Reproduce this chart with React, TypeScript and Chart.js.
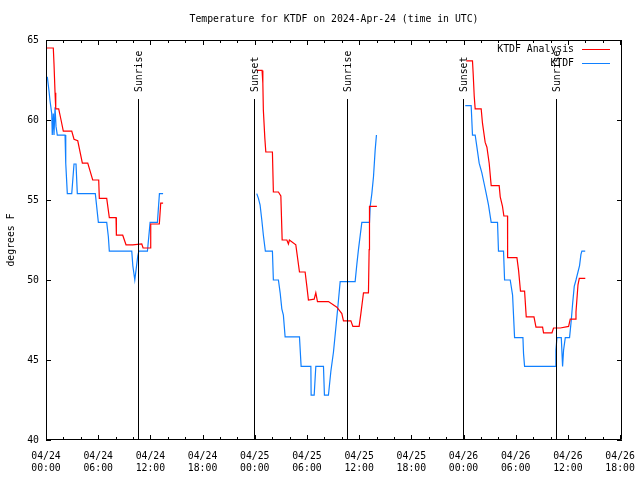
import React, { useEffect, useRef } from "react";
import { Chart, registerables } from "chart.js";

Chart.register(...registerables);

// ---------- data ----------
const TITLE = "Temperature for KTDF on 2024-Apr-24 (time in UTC)";
const Y_LABEL = "degrees F";
const SERIES_NAMES = ["KTDF Analysis", "KTDF"];
const SERIES_COLORS = ["#ff0000", "#1080ff"];
const X_DAYS = ["04/24", "04/25", "04/26"];
const X_TIMES = ["00:00", "06:00", "12:00", "18:00"];
const X_MAX_HOURS = 66.22;
const Y_MIN = 40;
const Y_MAX = 65;
const EVENT_HOURS = [10.62, 23.97, 34.62, 47.97, 58.62];
const EVENT_LABELS = ["Sunrise", "Sunset", "Sunrise", "Sunset", "Sunrise"];

// KTDF Analysis (hours since 04/24 00:00 UTC, degrees F)
const analysisHours1 = [0.08, 0.84, 0.92, 1.04, 1.12, 1.46, 1.73, 1.99, 2.96, 3.22, 3.65, 4.18, 4.8, 5.37, 6.06, 6.13, 6.98, 7.28, 8.05, 8.09, 8.82, 9.2, 9.97, 11.01, 11.16, 11.96, 12.04, 13.03, 13.19, 13.46];
const analysisTemps1 = [64.5, 64.5, 63.5, 61.7, 60.7, 60.7, 60.0, 59.3, 59.3, 58.8, 58.7, 57.3, 57.3, 56.25, 56.25, 55.1, 55.1, 53.9, 53.9, 52.8, 52.8, 52.2, 52.2, 52.25, 52.0, 52.0, 53.5, 53.5, 54.8, 54.8];
const analysisHours2 = [24.23, 24.84, 24.93, 24.99, 25.16, 25.27, 26.03, 26.14, 26.72, 27.0, 27.15, 27.69, 27.87, 27.98, 28.72, 29.14, 29.79, 29.99, 30.17, 30.83, 31.02, 31.21, 32.47, 33.44, 34.01, 34.2, 35.05, 35.28, 36.0, 36.2, 36.5, 37.07, 37.15, 37.19, 38.04];
const analysisTemps2 = [63.1, 63.1, 62.3, 60.6, 58.85, 58.0, 58.0, 55.5, 55.5, 55.25, 52.5, 52.5, 52.25, 52.5, 52.2, 50.5, 50.5, 49.6, 48.75, 48.8, 49.2, 48.65, 48.65, 48.3, 47.9, 47.45, 47.45, 47.1, 47.1, 47.9, 49.2, 49.2, 51.9, 54.6, 54.6];
const analysisHours3 = [48.31, 49.03, 49.11, 49.23, 49.34, 50.03, 50.18, 50.49, 50.69, 50.95, 51.18, 52.1, 52.22, 52.48, 52.64, 53.06, 53.07, 54.14, 54.33, 54.55, 55.02, 55.21, 56.1, 56.33, 57.09, 57.2, 58.17, 58.35, 59.12, 60.08, 60.27, 60.85, 60.93, 61.16, 61.31, 62.0];
const analysisTemps3 = [63.7, 63.7, 62.9, 61.5, 60.7, 60.7, 59.8, 58.6, 58.3, 57.3, 55.9, 55.9, 55.2, 54.6, 54.0, 54.0, 51.4, 51.4, 50.6, 49.3, 49.3, 47.7, 47.7, 47.05, 47.05, 46.7, 46.7, 47.0, 47.0, 47.1, 47.55, 47.55, 48.0, 49.7, 50.1, 50.1];

// KTDF observations
const obsHours1 = [0.15, 0.35, 0.46, 0.66, 0.72, 0.84, 0.92, 1.04, 1.15, 1.3, 2.19, 2.27, 2.45, 2.96, 3.22, 3.45, 3.6, 5.67, 6.02, 6.98, 7.17, 7.28, 9.86, 9.98, 10.21, 10.55, 10.67, 11.66, 11.97, 12.81, 13.04, 13.46];
const obsTemps1 = [62.7, 61.8, 61.2, 60.4, 59.06, 60.4, 59.06, 60.8, 59.6, 59.06, 59.06, 57.3, 55.4, 55.4, 57.25, 57.25, 55.4, 55.4, 53.6, 53.6, 52.7, 51.8, 51.8, 50.9, 50.0, 51.5, 51.8, 51.8, 53.6, 53.6, 55.4, 55.4];
const obsHours2 = [24.23, 24.42, 24.61, 24.81, 24.99, 25.22, 26.03, 26.14, 26.72, 26.92, 27.11, 27.29, 27.49, 29.14, 29.33, 30.45, 30.48, 30.83, 31.02, 31.9, 32.01, 32.47, 32.75, 33.05, 33.32, 33.55, 33.82, 35.54, 35.74, 35.92, 36.31, 37.19, 37.27, 37.46, 37.65, 37.84, 37.99];
const obsTemps2 = [55.4, 55.1, 54.7, 53.75, 52.8, 51.8, 51.8, 50.0, 50.0, 49.2, 48.2, 47.8, 46.45, 46.45, 44.6, 44.6, 42.8, 42.8, 44.6, 44.6, 42.8, 42.8, 44.3, 45.5, 47.0, 48.3, 49.9, 49.9, 51.0, 51.9, 53.6, 53.6, 54.6, 55.4, 56.45, 58.1, 59.06];
const obsHours3 = [48.2, 48.88, 49.03, 49.34, 49.54, 49.8, 50.11, 50.38, 50.61, 50.87, 51.18, 51.91, 52.02, 52.6, 52.72, 53.37, 53.64, 53.87, 54.83, 54.9, 55.02, 58.55, 58.62, 58.74, 59.24, 59.39, 59.5, 59.7, 60.19, 60.39, 60.54, 60.73, 60.93, 61.34, 61.5, 61.61, 61.99];
const obsTemps3 = [60.9, 60.9, 59.06, 59.06, 58.3, 57.3, 56.7, 56.0, 55.4, 54.7, 53.6, 53.6, 51.8, 51.8, 50.0, 50.0, 49.06, 46.4, 46.4, 45.4, 44.6, 44.6, 45.6, 46.4, 46.4, 44.6, 45.6, 46.4, 46.4, 47.5, 48.5, 49.6, 50.0, 50.9, 51.6, 51.8, 51.8];

// ---------- helpers ----------
type Pt = { x: number; y: number | null };
function joinSegments(segs: [number[], number[]][]): Pt[] {
  const out: Pt[] = [];
  segs.forEach(([hs, ts], i) => {
    if (i > 0) {
      const prev = out[out.length - 1].x;
      out.push({ x: (prev + hs[0]) / 2, y: null });
    }
    hs.forEach((h, j) => out.push({ x: h, y: ts[j] }));
  });
  return out;
}

const FONT_FAMILY = "'DejaVu Sans Mono', 'Liberation Mono', monospace";
const FONT_SIZE = 9.8;

const decorPlugin = {
  id: "gnuplotDecor",
  afterDatasetsDraw(chart: any) {
    const { ctx, chartArea, scales } = chart;
    const { left, right, top, bottom } = chartArea;
    const xs = scales.x;
    const ys = scales.y;
    ctx.save();
    ctx.strokeStyle = "#000";
    ctx.lineWidth = 1;
    ctx.beginPath();
    // sunrise / sunset lines
    EVENT_HOURS.forEach((h) => {
      const px = Math.round(xs.getPixelForValue(h)) + 0.5;
      ctx.moveTo(px, 99);
      ctx.lineTo(px, bottom);
    });
    // frame
    ctx.rect(left + 0.5, top + 0.5, right - left - 1, bottom - top - 1);
    // x ticks (major every 6h, minor every 2h), inward on bottom and top
    for (let h = 0; h <= X_MAX_HOURS + 1e-6; h += 2) {
      const px = Math.round(xs.getPixelForValue(h)) + 0.5;
      const len = h % 6 === 0 ? 5 : 3;
      ctx.moveTo(px, bottom);
      ctx.lineTo(px, bottom - len);
      ctx.moveTo(px, top);
      ctx.lineTo(px, top + len);
    }
    // y ticks
    for (let v = Y_MIN; v <= Y_MAX; v += 5) {
      const py = Math.round(ys.getPixelForValue(v)) + 0.5;
      ctx.moveTo(left, py);
      ctx.lineTo(left + 5, py);
      ctx.moveTo(right, py);
      ctx.lineTo(right - 5, py);
    }
    ctx.stroke();

    // event labels
    ctx.fillStyle = "#000";
    ctx.font = `${FONT_SIZE}px ${FONT_FAMILY}`;
    EVENT_HOURS.forEach((h, i) => {
      const px = Math.round(xs.getPixelForValue(h)) + 0.5;
      ctx.save();
      ctx.translate(px + 1, 92);
      ctx.rotate(-Math.PI / 2);
      ctx.textAlign = "left";
      ctx.textBaseline = "middle";
      ctx.fillText(EVENT_LABELS[i], 0, 0);
      ctx.restore();
    });
    ctx.restore();
  },
  afterDraw(chart: any) {
    const { ctx, chartArea } = chart;
    const { left, right, top, bottom } = chartArea;
    ctx.save();
    ctx.fillStyle = "#000";
    ctx.font = `${FONT_SIZE}px ${FONT_FAMILY}`;
    // title
    ctx.textAlign = "center";
    ctx.textBaseline = "middle";
    ctx.fillText(TITLE, (left + right) / 2, 19);
    // y label
    ctx.save();
    ctx.translate(11, (top + bottom) / 2);
    ctx.rotate(-Math.PI / 2);
    ctx.fillText(Y_LABEL, 0, 0);
    ctx.restore();
    // legend
    ctx.textAlign = "right";
    SERIES_NAMES.forEach((name, i) => {
      const y = 49 + i * 14;
      ctx.fillStyle = "#000";
      ctx.fillText(name, 574, y);
      ctx.strokeStyle = SERIES_COLORS[i];
      ctx.lineWidth = 1;
      ctx.beginPath();
      ctx.moveTo(582, Math.round(y) + 0.5);
      ctx.lineTo(610, Math.round(y) + 0.5);
      ctx.stroke();
    });
    ctx.restore();
  },
};

export default function App() {
  const canvasRef = useRef<HTMLCanvasElement | null>(null);

  useEffect(() => {
    document.body.style.margin = "0";
    const canvas = canvasRef.current;
    if (!canvas) return;
    const analysis = joinSegments([
      [analysisHours1, analysisTemps1],
      [analysisHours2, analysisTemps2],
      [analysisHours3, analysisTemps3],
    ]);
    const obs = joinSegments([
      [obsHours1, obsTemps1],
      [obsHours2, obsTemps2],
      [obsHours3, obsTemps3],
    ]);
    const tickFont = { family: FONT_FAMILY, size: FONT_SIZE, lineHeight: 1.25 };
    const chart = new Chart(canvas, {
      type: "line",
      data: {
        datasets: [
          {
            label: SERIES_NAMES[0],
            data: analysis as any,
            borderColor: SERIES_COLORS[0],
            borderWidth: 1.2,
            pointRadius: 0,
            fill: false,
            tension: 0,
            spanGaps: false,
          },
          {
            label: SERIES_NAMES[1],
            data: obs as any,
            borderColor: SERIES_COLORS[1],
            borderWidth: 1.2,
            pointRadius: 0,
            fill: false,
            tension: 0,
            spanGaps: false,
          },
        ],
      },
      options: {
        animation: false,
        responsive: false,
        maintainAspectRatio: false,
        layout: { padding: { left: 0, right: 18, top: 40, bottom: 0 } },
        plugins: {
          legend: { display: false },
          title: { display: false },
          tooltip: { enabled: false },
        },
        scales: {
          x: {
            type: "linear",
            min: 0,
            max: X_MAX_HOURS,
            afterFit: (s: any) => {
              s.height = 40;
              s.paddingLeft = 0;
              s.paddingRight = 0;
            },
            grid: { display: false, drawTicks: false },
            border: { display: false },
            ticks: {
              stepSize: 6,
              includeBounds: false,
              autoSkip: false,
              maxRotation: 0,
              padding: 10,
              color: "#000",
              font: tickFont,
              callback: (v: any) => {
                const h = Number(v);
                const day = Math.floor(h / 24);
                const t = Math.round((h % 24) / 6);
                return [X_DAYS[day] ?? "", X_TIMES[t] ?? ""];
              },
            },
          },
          y: {
            type: "linear",
            min: Y_MIN,
            max: Y_MAX,
            afterFit: (s: any) => {
              s.width = 46;
              s.paddingTop = 0;
              s.paddingBottom = 0;
            },
            grid: { display: false, drawTicks: false },
            border: { display: false },
            ticks: {
              stepSize: 5,
              padding: 7,
              color: "#000",
              font: tickFont,
            },
          },
        },
      },
      plugins: [decorPlugin],
    });
    return () => chart.destroy();
  }, []);

  return (
    <div style={{ position: "absolute", left: 0, top: 0, width: 640, height: 480, background: "#fff" }}>
      <canvas ref={canvasRef} width={640} height={480} style={{ display: "block" }} />
    </div>
  );
}
